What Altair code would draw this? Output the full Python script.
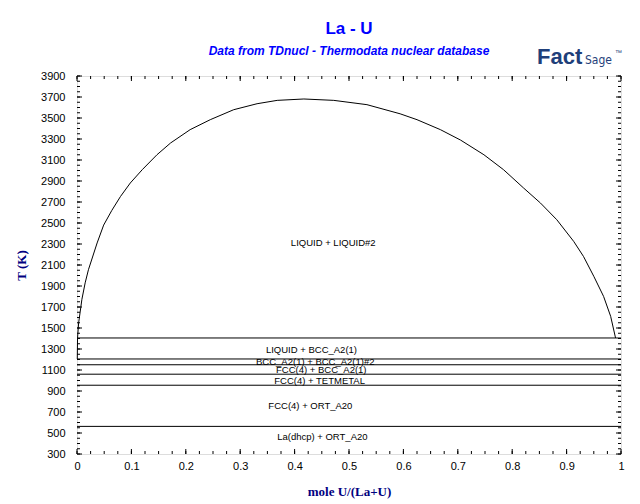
import altair as alt
import pandas as pd

# ---------------- data ----------------
curve_x = [0.0005, 0.001, 0.003, 0.009, 0.015, 0.021, 0.037, 0.049, 0.064, 0.080, 0.098,
           0.120, 0.147, 0.172, 0.208, 0.245, 0.288, 0.331, 0.368, 0.417, 0.472, 0.533,
           0.594, 0.625, 0.668, 0.705, 0.748, 0.784, 0.821, 0.852, 0.882, 0.913, 0.931,
           0.950, 0.968, 0.981, 0.990]
curve_t = [1205, 1405, 1548, 1773, 1930, 2055, 2310, 2480, 2620, 2753, 2881,
           3008, 3150, 3262, 3389, 3484, 3579, 3636, 3668, 3681, 3668, 3627,
           3540, 3484, 3389, 3290, 3150, 3008, 2833, 2690, 2531, 2325, 2182,
           1992, 1801, 1611, 1405]

line_t = [1405, 1205, 1150, 1060, 955, 563]
line_x0 = [0, 0, 0, 0, 0, 0]
line_x1 = [1, 1, 1, 1, 1, 1]

label_text = ["LIQUID + LIQUID#2", "LIQUID + BCC_A2(1)", "BCC_A2(1) + BCC_A2(1)#2",
              "FCC(4) + BCC_A2(1)", "FCC(4) + TETMETAL", "FCC(4) + ORT_A20",
              "La(dhcp) + ORT_A20"]
label_x = [0.471, 0.431, 0.438, 0.449, 0.446, 0.429, 0.451]
label_t = [2312, 1290, 1178, 1103, 995, 760, 465]

x_tick_values = [0, 0.1, 0.2, 0.3, 0.4, 0.5, 0.6, 0.7, 0.8, 0.9, 1.0]
x_minor_values = [i * 0.025 for i in range(41)]
y_tick_values = list(range(300, 3901, 200))
y_minor_values = list(range(300, 3901, 50))

W, H = 544, 378

xs = alt.Scale(domain=[0, 1], nice=False, zero=False)
ys = alt.Scale(domain=[300, 3900], nice=False, zero=False)

xaxis = alt.Axis(values=x_tick_values, format="~g", title="mole U/(La+U)",
                 ticks=False, tickSize=0, domain=False, grid=False,
                 labelPadding=6, labelFont="Liberation Sans", labelFontSize=11,
                 labelColor="black", labelFlush=False, labelOverlap=False,
                 titleFont="Liberation Serif", titleFontSize=13, titleFontWeight="bold",
                 titleColor="#000080", titleY=37, titleBaseline="middle")
yaxis = alt.Axis(values=y_tick_values, format="d", title="T (K)",
                 ticks=False, tickSize=0, domain=False, grid=False,
                 labelPadding=12, labelFont="Liberation Sans", labelFontSize=11,
                 labelColor="black", labelFlush=False, labelOverlap=False,
                 titleFont="Liberation Serif", titleFontSize=13, titleFontWeight="bold",
                 titleColor="#000080", titleX=-56, titleY=H / 2, titleAngle=-90,
                 titleBaseline="middle", titleAlign="center")

X = alt.X("x:Q", scale=xs, axis=xaxis)
Y = alt.Y("T:Q", scale=ys, axis=yaxis)

curve_df = pd.DataFrame({"x": curve_x, "T": curve_t, "o": list(range(len(curve_x)))})
lines_df = pd.DataFrame({"x": line_x0, "x1": line_x1, "T": line_t})
labels_df = pd.DataFrame({"x": label_x, "T": label_t, "label": label_text})

curve = alt.Chart(curve_df).mark_line(color="black", strokeWidth=1).encode(
    x=X, y=Y, order="o:Q")
hlines = alt.Chart(lines_df).mark_rule(color="black", strokeWidth=1).encode(
    x=X, x2="x1:Q", y=Y)
labels = alt.Chart(labels_df).mark_text(font="Liberation Sans", fontSize=9.5,
                                        color="black", baseline="middle").encode(
    x=X, y=Y, text="label:N")

ymaj = pd.DataFrame({"T": y_tick_values})
ymin = pd.DataFrame({"T": y_minor_values})
xmaj = pd.DataFrame({"x": x_tick_values})
xmin = pd.DataFrame({"x": x_minor_values})

def yticks(df, a, b):
    return alt.Chart(df).mark_rule(color="black", strokeWidth=1).encode(
        y=Y, x=alt.value(a), x2=alt.value(b))

def xticks(df, a, b):
    return alt.Chart(df).mark_rule(color="black", strokeWidth=1).encode(
        x=X, y=alt.value(a), y2=alt.value(b))

ticks = [
    yticks(ymin, 0, 3), yticks(ymaj, 0, 5),
    yticks(ymin, W, W - 3), yticks(ymaj, W, W - 5),
    xticks(xmin, H, H - 3), xticks(xmaj, H, H - 5),
    xticks(xmin, 0, 3), xticks(xmaj, 0, 5),
]

logo_df = pd.DataFrame({"a": ["Fact"], "b": ["Sage"], "c": ["\u2122"]})
logo1 = alt.Chart(logo_df).mark_text(font="Liberation Sans", fontSize=22, fontWeight="bold",
                                     color="#1F3F7A", align="left",
                                     baseline="alphabetic").encode(
    text="a:N", x=alt.value(460), y=alt.value(-12))
logo2 = alt.Chart(logo_df).mark_text(font="DejaVu Sans Condensed", fontSize=12,
                                     color="#1F3F7A", align="left",
                                     baseline="alphabetic").encode(
    text="b:N", x=alt.value(508), y=alt.value(-12))
logo3 = alt.Chart(logo_df).mark_text(font="Liberation Sans", fontSize=7,
                                     color="#1F3F7A", align="left",
                                     baseline="alphabetic").encode(
    text="c:N", x=alt.value(538), y=alt.value(-21))

chart = alt.layer(curve, hlines, labels, *ticks, logo1, logo2, logo3).properties(
    width=W, height=H,
    padding={"left": 69, "top": 68, "right": 11, "bottom": 48},
    autosize=alt.AutoSizeParams(type="none"),
    title=alt.TitleParams(
        "La - U",
        subtitle="Data from TDnucl - Thermodata nuclear database",
        font="Liberation Sans", fontSize=17, fontWeight="bold", color="#0000FF",
        subtitleFont="Liberation Sans", subtitleFontSize=12, subtitleFontStyle="italic",
        subtitleFontWeight="bold", subtitleColor="#0000FF", subtitlePadding=8,
        anchor="middle", frame="group", offset=-12),
).configure_view(stroke="black", strokeWidth=1).configure(background="white")

chart.save("out.html", embed_options={"renderer": "svg", "actions": False})
